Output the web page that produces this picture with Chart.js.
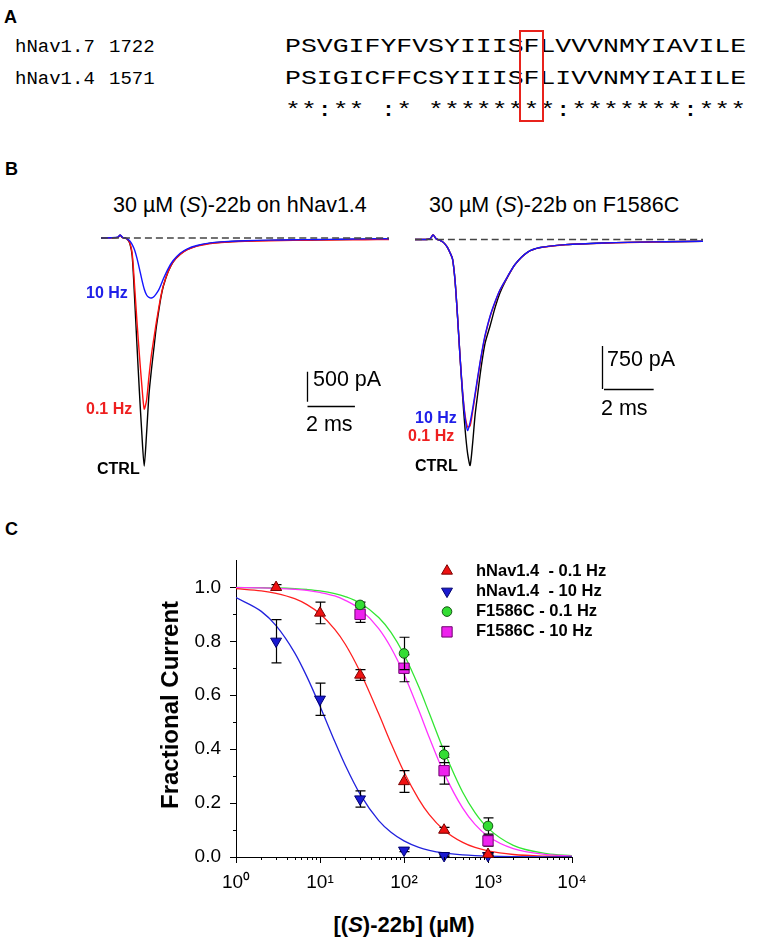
<!DOCTYPE html>
<html>
<head>
<meta charset="utf-8">
<title>(S)-22b on hNav1.4 and F1586C</title>
<script src="https://cdn.jsdelivr.net/npm/chart.js@4.4.1/dist/chart.umd.min.js"></script>
<style>
  html, body { margin: 0; padding: 0; background: #fff; }
  #page { position: relative; width: 758px; height: 939px; overflow: hidden;
          font-family: "Liberation Sans", Arial, sans-serif; color: #000; }
  .lbl { position: absolute; line-height: 1; white-space: nowrap; }
  .panel { font-size: 18px; font-weight: bold; }
  .ttl { font-size: 21.5px; }
  .hz { font-size: 16px; font-weight: bold; }
  .axt { font-size: 24px; font-weight: bold; }
  .mono { position: absolute; font-family: "Liberation Mono", "Courier New", monospace;
          font-size: 20px; line-height: 32px; white-space: pre; transform-origin: 0 0; }
  .mono.name { font-size: 19px; }
  canvas { position: absolute; }
</style>
</head>
<body>
<div id="page">
  <div class="lbl panel" style="left:4px;top:8px">A</div>
  <div id="align"></div>

  <div class="lbl panel" style="left:5px;top:160px">B</div>
  <div class="lbl ttl" style="left:113px;top:195px">30 µM (<i>S</i>)-22b on hNav1.4</div>
  <div class="lbl ttl" style="left:429px;top:195px">30 µM (<i>S</i>)-22b on F1586C</div>
  <canvas id="bLeft" width="288" height="252" style="left:101px;top:226px"></canvas>
  <canvas id="bRight" width="288" height="253" style="left:415px;top:228px"></canvas>
  <div class="lbl hz" style="left:86px;top:285px;color:#2020e8">10 Hz</div>
  <div class="lbl hz" style="left:86px;top:401px;color:#ee2020">0.1 Hz</div>
  <div class="lbl hz" style="left:97px;top:461px">CTRL</div>
  <div class="lbl hz" style="left:415px;top:410px;color:#2020e8">10 Hz</div>
  <div class="lbl hz" style="left:408px;top:428px;color:#ee2020">0.1 Hz</div>
  <div class="lbl hz" style="left:415px;top:458px">CTRL</div>
  <div class="lbl ttl" style="left:313px;top:369px">500 pA</div>
  <div class="lbl ttl" style="left:306px;top:414px">2 ms</div>
  <div class="lbl ttl" style="left:607px;top:349px">750 pA</div>
  <div class="lbl ttl" style="left:601px;top:398px">2 ms</div>

  <div class="lbl panel" style="left:5px;top:520px">C</div>
  <canvas id="cChart" width="490" height="357" style="left:140px;top:540px"></canvas>
  <div class="lbl axt" style="left:170px;top:705px;transform:translate(-50%,-50%) rotate(-90deg)">Fractional Current</div>
  <div class="lbl axt" style="left:404px;top:914px;font-size:22px;transform:translateX(-50%)">[(<i>S</i>)-22b] (µM)</div>
</div>

<script>
// ---- panel A: alignment ----
const seqNames = ['hNav1.7', 'hNav1.4'];
const seqStarts = ['1722', '1571'];
const seqs = ['PSVGIFYFVSYIIISFLVVVNMYIAVILE', 'PSIGICFFCSYIIISFLIVVNMYIAIILE'];
const conservation = '**:** :* ********:*******:***';
const boxedPos = 15;

// ---- panel B: current traces (ms, pA) ----
const tLeft = [0, 0.4, 0.7, 0.8, 0.9, 1.0, 1.1, 1.2, 1.3, 1.4, 1.5, 1.6, 1.7, 1.8, 1.9, 2.0, 2.1, 2.2,
  2.3, 2.4, 2.5, 2.6, 2.8, 3.0, 3.3, 3.6, 4.0, 4.5, 5.0, 6.0, 7.0, 8.0, 9.0, 10.0, 11.0, 12.0];
const ctrlLeft = [0, 5, 10, 45, 5, 0, -20, -90, -300, -1000, -1800, -2560, -3250, -3800, -3250, -2600, -2200, -1850,
  -1500, -1230, -980, -800, -560, -400, -270, -190, -130, -90, -70, -50, -40, -35, -30, -25, -20, -15];
const hz01Left = [0, 5, 10, 45, 5, 0, -20, -80, -260, -800, -1400, -1950, -2450, -2850, -2700, -2300, -1950, -1680,
  -1420, -1180, -960, -790, -560, -400, -275, -195, -135, -95, -75, -55, -45, -40, -35, -30, -28, -25];
const hz10Left = [0, 5, 15, 50, 10, 0, -15, -50, -110, -200, -340, -510, -690, -850, -950, -990, -1000, -980,
  -930, -870, -780, -680, -510, -380, -255, -180, -125, -85, -65, -45, -35, -30, -25, -20, -15, -12];

const tRight = [0, 0.4, 0.6, 0.72, 0.85, 1.0, 1.1, 1.2, 1.3, 1.4, 1.5, 1.6, 1.7, 1.8, 1.9, 2.0, 2.1, 2.2, 2.3,
  2.4, 2.5, 2.6, 2.7, 2.8, 3.0, 3.2, 3.4, 3.7, 4.0, 4.5, 5.0, 6.0, 7.0, 8.0, 9.0, 10.0, 11.5];
const ctrlRight = [0, 0, 10, 80, 10, -15, -40, -80, -140, -230, -340, -720, -1350, -2050, -2720, -3300, -3720, -3930, -3550,
  -3050, -2700, -2350, -2050, -1800, -1500, -1180, -920, -650, -430, -220, -140, -90, -70, -55, -45, -38, -30];
const hz01Right = [0, 0, 10, 80, 10, -15, -40, -80, -140, -230, -340, -720, -1350, -2050, -2640, -3060, -3260, -3240, -3000,
  -2720, -2430, -2150, -1900, -1680, -1340, -1090, -875, -645, -432, -222, -142, -92, -72, -57, -47, -40, -32];
const hz10Right = [0, 0, 10, 80, 10, -15, -40, -80, -140, -230, -340, -720, -1350, -2050, -2650, -3100, -3320, -3180, -2950,
  -2680, -2400, -2130, -1880, -1660, -1330, -1080, -870, -640, -430, -220, -140, -90, -70, -55, -45, -38, -30];

// ---- panel C: concentration-response ----
const conc = [3, 10, 30, 100, 300, 1000];
const hNav01 = [1.0, 0.905, 0.675, 0.28, 0.10, 0.01];
const hNav01Err = [0.01, 0.04, 0.02, 0.04, 0.01, 0.005];
const hNav10 = [0.80, 0.585, 0.215, 0.025, 0.005, 0.005];
const hNav10Err = [0.08, 0.06, 0.03, 0.005, 0.003, 0.003];
const concF = [30, 100, 300, 1000];
const f1586c01 = [0.935, 0.755, 0.38, 0.115];
const f1586c01Err = [0.01, 0.06, 0.03, 0.03];
const f1586c10 = [0.90, 0.70, 0.32, 0.06];
const f1586c10Err = [0.03, 0.05, 0.05, 0.02];

const fitX = [1, 2, 3, 5, 7, 10, 15, 20, 30, 50, 70, 100, 150, 200, 300, 500, 700, 1000, 2000, 5000, 10000];
const fitHNav01 = [0.995, 0.987, 0.978, 0.958, 0.936, 0.902, 0.844, 0.789, 0.687, 0.531, 0.422, 0.315, 0.214, 0.157,
  0.0995, 0.054, 0.0353, 0.0226, 0.0093, 0.0028, 0.0011];
const fitHNav10 = [0.962, 0.911, 0.858, 0.757, 0.668, 0.559, 0.428, 0.340, 0.233, 0.135, 0.092, 0.060, 0.036, 0.025,
  0.015, 0.0078, 0.005, 0.0032, 0.0013, 0.0004, 0.0002];
const fitF01 = [0.9995, 0.9986, 0.9976, 0.995, 0.992, 0.987, 0.977, 0.966, 0.942, 0.888, 0.833, 0.751, 0.631, 0.533,
  0.393, 0.240, 0.165, 0.107, 0.043, 0.0125, 0.0048];
const fitF10 = [0.999, 0.998, 0.9965, 0.993, 0.989, 0.981, 0.968, 0.952, 0.919, 0.847, 0.776, 0.678, 0.544, 0.443,
  0.311, 0.181, 0.121, 0.077, 0.031, 0.0088, 0.0033];

const xMajor = [1, 10, 100, 1000, 10000];
const yMajor = [0, 0.2, 0.4, 0.6, 0.8, 1.0];
const yMinor = [0.1, 0.3, 0.5, 0.7, 0.9];
const supDigits = ['\u2070', '\u00B9', '\u00B2', '\u00B3', '\u2074'];

Chart.defaults.font.family = '"Liberation Sans", Arial, sans-serif';
Chart.defaults.color = '#000';

// alignment rows
const align = document.getElementById('align');
const rowTop = 31.4, rowStep = 32, seqLeft = 285, charStep = 15.9, monoW = 12;
function addMono(text, left, top, stretch, cls) {
  const d = document.createElement('div');
  d.className = 'mono' + (cls ? ' ' + cls : '');
  d.textContent = text;
  d.style.left = left + 'px';
  d.style.top = top + 'px';
  if (stretch) d.style.transform = 'scaleX(' + stretch + ')';
  align.appendChild(d);
}
seqs.forEach((s, i) => {
  addMono(seqNames[i], 15, rowTop + i * rowStep, 0, 'name');
  addMono(seqStarts[i], 109, rowTop + i * rowStep, 0, 'name');
  addMono(s, seqLeft, rowTop + i * rowStep, charStep / monoW);
});
addMono(conservation, seqLeft, rowTop + 2 * rowStep, charStep / monoW);
const box = document.createElement('div');
box.style.cssText = 'position:absolute;border:2px solid #e8231c;top:30px;width:21px;height:88px;left:' +
  (seqLeft + boxedPos * charStep - 4.5) + 'px';
align.appendChild(box);

// scale bars drawn in data units
const scaleBarPlugin = {
  id: 'scaleBar',
  afterDatasetsDraw(chart, args, opts) {
    const { x, y } = chart.scales;
    const ctx = chart.ctx;
    const px = Math.round(x.getPixelForValue(opts.t)) + 0.5;
    const top = y.getPixelForValue(opts.i);
    const bottom = y.getPixelForValue(opts.i - opts.pA);
    const right = x.getPixelForValue(opts.t + opts.ms);
    const hy = Math.round(bottom + opts.gap) + 0.5;
    ctx.save();
    ctx.strokeStyle = '#000';
    ctx.lineWidth = 1.3;
    ctx.beginPath();
    ctx.moveTo(px, top);
    ctx.lineTo(px, bottom);
    ctx.moveTo(px + opts.gapX, hy);
    ctx.lineTo(right + opts.gapX, hy);
    ctx.stroke();
    ctx.restore();
  }
};

function traceChart(id, t, ctrl, hz01, hz10, yMin, yMax, bar) {
  const pts = arr => t.map((v, i) => ({ x: v, y: arr[i] }));
  return new Chart(document.getElementById(id), {
    type: 'line',
    data: {
      datasets: [
        { label: 'baseline', data: [{ x: t[0], y: 0 }, { x: t[t.length - 1], y: 0 }],
          borderColor: '#444', borderWidth: 1.3, borderDash: [7, 4], order: 0 },
        { label: '10 Hz', data: pts(hz10), borderColor: '#1414ff', borderWidth: 1.4, order: 1 },
        { label: '0.1 Hz', data: pts(hz01), borderColor: '#ff1010', borderWidth: 1.4, order: 2 },
        { label: 'CTRL', data: pts(ctrl), borderColor: '#000', borderWidth: 1.4, order: 3 }
      ]
    },
    options: {
      responsive: false,
      animation: false,
      devicePixelRatio: 1,
      layout: { padding: 0 },
      elements: { point: { radius: 0 }, line: { tension: 0.25, fill: false } },
      plugins: { legend: { display: false }, tooltip: { enabled: false }, scaleBar: bar },
      scales: {
        x: { type: 'linear', min: 0, max: t[t.length - 1], display: false },
        y: { min: yMin, max: yMax, display: false }
      }
    },
    plugins: [scaleBarPlugin]
  });
}

traceChart('bLeft', tLeft, ctrlLeft, hz01Left, hz10Left, -4000, 200,
  { t: 8.58, i: -2229, pA: 500, ms: 2, gap: 4, gapX: 0 });
traceChart('bRight', tRight, ctrlRight, hz01Right, hz10Right, -4200, 200,
  { t: 7.47, i: -1852, pA: 750, ms: 2, gap: 0, gapX: 1.5 });

// ---- panel C plugins ----
const errorBarPlugin = {
  id: 'errorBars',
  beforeDatasetDraw(chart, args) {
    const ds = chart.data.datasets[args.index];
    if (!ds.errors) return;
    const { x, y } = chart.scales;
    const ctx = chart.ctx;
    ctx.save();
    ctx.strokeStyle = '#000';
    ctx.lineWidth = 1.2;
    ctx.beginPath();
    ds.data.forEach((p, i) => {
      const e = ds.errors[i];
      const px = Math.round(x.getPixelForValue(p.x)) + 0.5;
      const hi = y.getPixelForValue(p.y + e);
      const lo = y.getPixelForValue(p.y - e);
      ctx.moveTo(px, hi); ctx.lineTo(px, lo);
      ctx.moveTo(px - 5, hi); ctx.lineTo(px + 5, hi);
      ctx.moveTo(px - 5, lo); ctx.lineTo(px + 5, lo);
    });
    ctx.stroke();
    ctx.restore();
  }
};

const minorTickPlugin = {
  id: 'minorTicks',
  afterDraw(chart) {
    const { x, y } = chart.scales;
    const area = chart.chartArea;
    const ctx = chart.ctx;
    ctx.save();
    ctx.strokeStyle = '#000';
    ctx.lineWidth = 1;
    ctx.beginPath();
    for (let d = 1; d < 10000; d *= 10) {
      for (let m = 2; m <= 9; m++) {
        const px = Math.round(x.getPixelForValue(d * m)) + 0.5;
        ctx.moveTo(px, area.bottom);
        ctx.lineTo(px, area.bottom + 3);
      }
    }
    yMinor.forEach(v => {
      const py = Math.round(y.getPixelForValue(v)) + 0.5;
      ctx.moveTo(area.left, py);
      ctx.lineTo(area.left - 3, py);
    });
    ctx.stroke();
    ctx.restore();
  }
};

const insetLegendPlugin = {
  id: 'insetLegend',
  afterDraw(chart, args, opts) {
    const ctx = chart.ctx;
    chart.data.datasets.filter(d => d.errors).forEach((d, i) => {
      const yy = opts.top + i * opts.step;
      ctx.save();
      ctx.fillStyle = d.backgroundColor;
      ctx.strokeStyle = d.borderColor;
      ctx.lineWidth = d.borderWidth;
      Chart.helpers.drawPoint(ctx, { pointStyle: d.pointStyle, radius: d.pointRadius,
        rotation: d.pointRotation || 0, borderWidth: d.borderWidth }, opts.markerX, yy);
      ctx.fillStyle = '#000';
      ctx.font = 'bold 16.5px "Liberation Sans", Arial, sans-serif';
      ctx.textBaseline = 'middle';
      ctx.fillText(d.label, opts.textX, yy);
      ctx.restore();
    });
  }
};

const fitLine = (vals, color) => ({
  label: 'fit', data: fitX.map((v, i) => ({ x: v, y: vals[i] })), showLine: true,
  borderColor: color, borderWidth: 1.3, pointRadius: 0, cubicInterpolationMode: 'monotone', order: 5
});
const marks = (label, xs, ys, errs, style, rot, radius, fill, edge) => ({
  label, data: xs.map((v, i) => ({ x: v, y: ys[i] })), errors: errs,
  pointStyle: style, pointRotation: rot, pointRadius: radius,
  backgroundColor: fill, borderColor: edge, borderWidth: 1, clip: false, order: 1
});

const tickFont = { size: 19, family: '"Liberation Sans", Arial, sans-serif' };
const axisGrid = { drawOnChartArea: false, drawTicks: true, tickLength: 6, tickColor: '#000', tickWidth: 1 };

new Chart(document.getElementById('cChart'), {
  type: 'scatter',
  data: {
    datasets: [
      fitLine(fitHNav10, '#2222dd'),
      fitLine(fitHNav01, '#ff2020'),
      fitLine(fitF10, '#ff33ff'),
      fitLine(fitF01, '#33e633'),
      marks('hNav1.4  - 0.1 Hz', conc, hNav01, hNav01Err, 'triangle', 0, 6.3, '#ee1111', '#7a0000'),
      marks('hNav1.4  - 10 Hz', conc, hNav10, hNav10Err, 'triangle', 180, 6.3, '#1a1ad0', '#00006e'),
      marks('F1586C - 0.1 Hz', concF, f1586c01, f1586c01Err, 'circle', 0, 4.8, '#33dd33', '#145214'),
      marks('F1586C - 10 Hz', concF, f1586c10, f1586c10Err, 'rect', 0, 7.3, '#ee22ee', '#6e006e')
    ]
  },
  options: {
    responsive: false,
    animation: false,
    devicePixelRatio: 1,
    layout: { padding: { top: 13, right: 58, left: 0, bottom: 0 } },
    plugins: {
      legend: { display: false },
      tooltip: { enabled: false },
      insetLegend: { markerX: 307, textX: 336, top: 31, step: 20.3 }
    },
    scales: {
      x: {
        type: 'logarithmic', min: 1, max: 10000,
        afterBuildTicks: s => { s.ticks = xMajor.map(v => ({ value: v })); },
        afterFit: s => { s.height = 40; },
        ticks: { callback: v => '10' + supDigits[Math.round(Math.log10(v))], font: tickFont,
                 color: '#000', padding: 8, maxRotation: 0, autoSkip: false },
        grid: axisGrid,
        border: { display: true, color: '#000', width: 1 }
      },
      y: {
        min: 0, max: 1.1,
        afterBuildTicks: s => { s.ticks = yMajor.map(v => ({ value: v })); },
        afterFit: s => { s.width = 96; },
        ticks: { callback: v => Number(v).toFixed(1), font: tickFont, color: '#000', padding: 9 },
        grid: axisGrid,
        border: { display: true, color: '#000', width: 1 }
      }
    }
  },
  plugins: [errorBarPlugin, minorTickPlugin, insetLegendPlugin]
});
</script>
</body>
</html>
